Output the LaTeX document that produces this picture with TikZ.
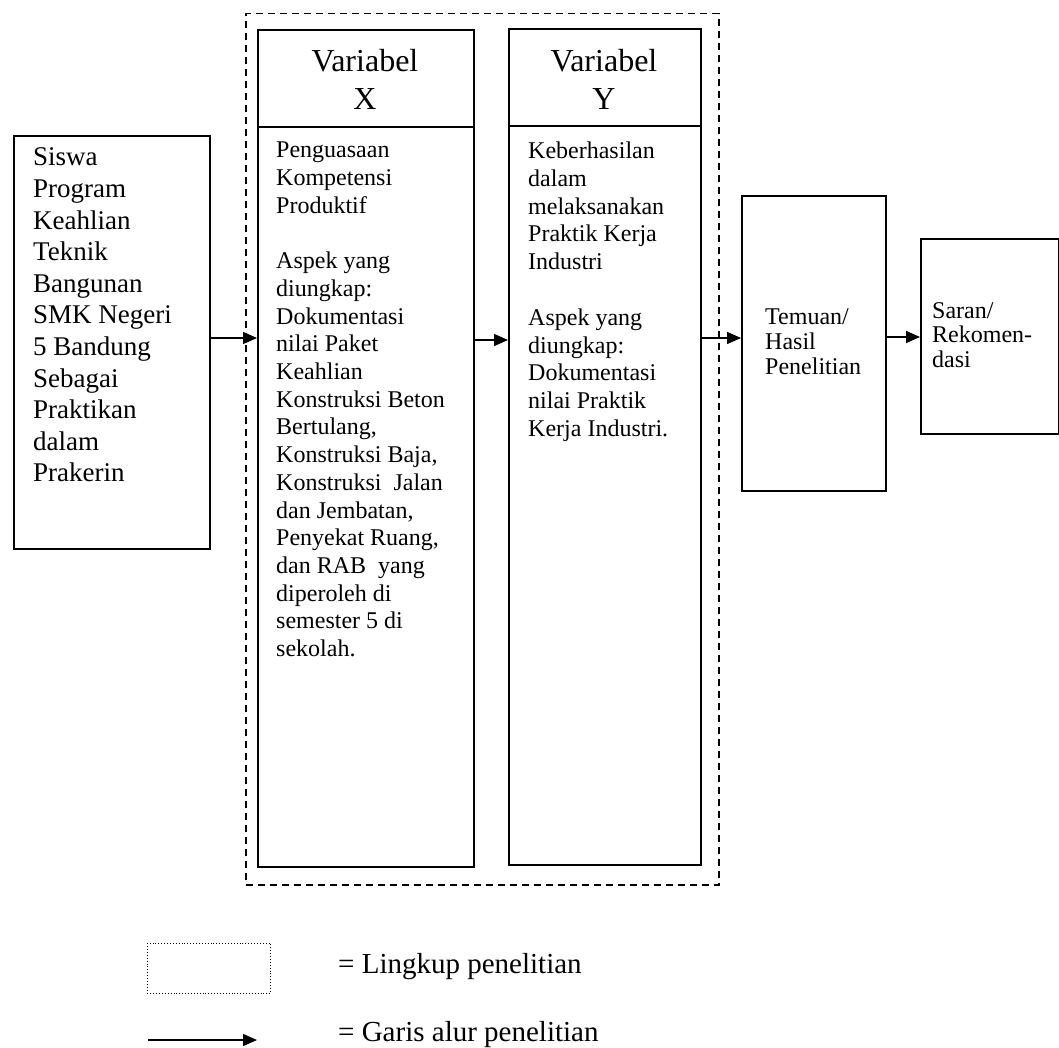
\documentclass[tikz,border=0pt]{standalone}
\usepackage{fontspec}
\setmainfont{Liberation Serif}
\usetikzlibrary{arrows.meta}
\begin{document}
\begin{tikzpicture}[x=1pt,y=-1pt,
  box/.style={draw, line width=1.6pt, rectangle, inner sep=0pt, anchor=north west},
  txt/.style={anchor=base west, inner sep=0pt},
  flow/.style={line width=1.4pt, -{Triangle[length=14pt,width=12pt]}},
  scopebox/.style={draw, line width=1.5pt, dash pattern=on 7pt off 5pt, rectangle, inner sep=0pt, anchor=north west},
  legbox/.style={draw, line width=0.9pt, dotted, rectangle, inner sep=0pt, anchor=north west},
]
\useasboundingbox (0,0) rectangle (1059,1048);

% outer scope (dashed)
\node[scopebox, minimum width=473pt, minimum height=871pt] (lingkup) at (245,13) {};

% boxes
\node[box, minimum width=196pt, minimum height=413pt] (siswa) at (13,135) {};
\node[box, minimum width=216pt, minimum height=837pt] (vx) at (257,29) {};
\node[box, minimum width=192pt, minimum height=836pt] (vy) at (508,28) {};
\node[box, minimum width=144pt, minimum height=295pt] (temuan) at (741,195) {};
\node[box, minimum width=138pt, minimum height=195pt] (saran) at (920,238) {};

% header dividers
\coordinate (dx) at (0,127);
\coordinate (dy) at (0,126);
\draw[line width=1.6pt] (vx.west |- dx) -- (vx.east |- dx);
\draw[line width=1.6pt] (vy.west |- dy) -- (vy.east |- dy);

% texts
\node[txt] (tsiswa) at (33,166) {\fontsize{27}{31.6}\selectfont\begin{tabular}[t]{@{}l@{}}Siswa\\Program\\Keahlian\\Teknik\\Bangunan\\SMK Negeri\\5 Bandung\\Sebagai\\Praktikan\\dalam\\Prakerin\end{tabular}};

\node[anchor=base, inner sep=0pt] (hx) at (365,72) {\fontsize{32}{38}\selectfont\begin{tabular}[t]{@{}c@{}}Variabel\\X\end{tabular}};
\node[anchor=base, inner sep=0pt] (hy) at (604,72) {\fontsize{32}{38}\selectfont\begin{tabular}[t]{@{}c@{}}Variabel\\Y\end{tabular}};

\node[txt] (tx) at (276,158) {\fontsize{24}{27.7}\selectfont\begin{tabular}[t]{@{}l@{}}Penguasaan\\Kompetensi\\Produktif\\ \\Aspek yang\\diungkap:\\Dokumentasi\\nilai Paket\\Keahlian\\Konstruksi Beton\\Bertulang,\\Konstruksi Baja,\\Konstruksi\ \ Jalan\\dan Jembatan,\\Penyekat Ruang,\\dan RAB\ \ yang\\diperoleh di\\semester 5 di\\sekolah.\end{tabular}};

\node[txt] (ty) at (528,158.5) {\fontsize{24}{27.8}\selectfont\begin{tabular}[t]{@{}l@{}}Keberhasilan\\dalam\\melaksanakan\\Praktik Kerja\\Industri\\ \\Aspek yang\\diungkap:\\Dokumentasi\\nilai Praktik\\Kerja Industri.\end{tabular}};

\node[txt] (ttemuan) at (765,324.5) {\fontsize{24}{25}\selectfont\begin{tabular}[t]{@{}l@{}}Temuan/\\Hasil\\Penelitian\end{tabular}};
\node[txt] (tsaran) at (932,318.5) {\fontsize{24}{24.5}\selectfont\begin{tabular}[t]{@{}l@{}}Saran/\\Rekomen-\\dasi\end{tabular}};

% flow arrows
\coordinate (a1) at (0,338);
\coordinate (a2) at (0,340);
\coordinate (a3) at (0,338);
\coordinate (a4) at (0,337);
\draw[flow] (siswa.east |- a1) -- (vx.west |- a1);
\draw[flow] (vx.east |- a2) -- (vy.west |- a2);
\draw[flow] (vy.east |- a3) -- (temuan.west |- a3);
\draw[flow] (temuan.east |- a4) -- (saran.west |- a4);

% legend
\node[legbox, minimum width=123pt, minimum height=50pt] (leg1) at (147,943) {};
\coordinate (la) at (148,1040);
\coordinate (lb) at (257,1040);
\draw[flow] (la) -- (lb);
\node[txt] (tleg1) at (338,973) {\fontsize{29}{34}\selectfont = Lingkup penelitian};
\node[txt] (tleg2) at (338,1041) {\fontsize{29}{34}\selectfont = Garis alur penelitian};
\end{tikzpicture}
\end{document}
